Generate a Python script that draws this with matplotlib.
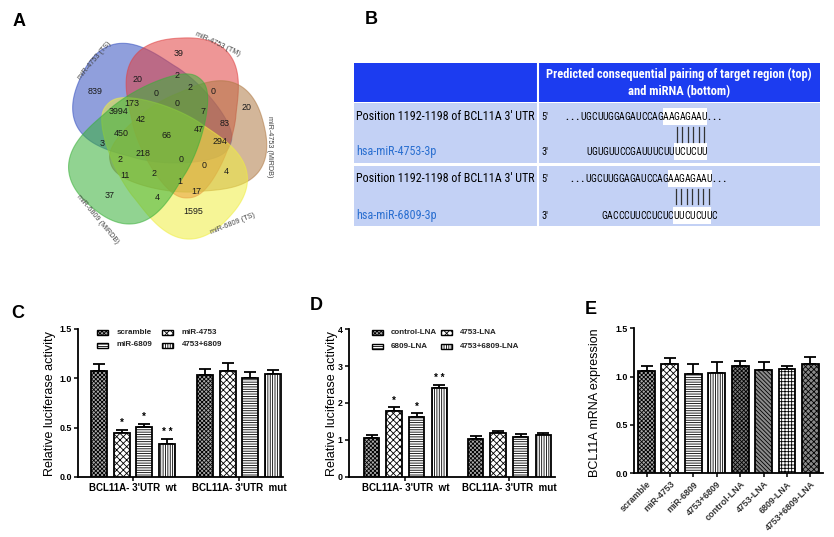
import numpy as np
import matplotlib
matplotlib.use('Agg')
import matplotlib.pyplot as plt
from matplotlib.patches import Polygon, Rectangle
from matplotlib import font_manager as fm

W, H = 834, 537
plt.rcParams['font.family'] = ['Liberation Sans', 'DejaVu Sans']
plt.rcParams['hatch.linewidth'] = 0.6

_names = {f.name for f in fm.fontManager.ttflist}
NARROW = next((n for n in ['Liberation Sans Narrow', 'Roboto Condensed', 'Open Sans Condensed']
               if n in _names), None)
NFAM = [NARROW, 'Liberation Sans', 'DejaVu Sans'] if NARROW else ['Liberation Sans', 'DejaVu Sans']

# ---------------- data ----------------
venn_sets = ['miR-4753 (TS)', 'miR-4753 (TM)', 'miR-4753 (MiRDB)', 'miR-6809 (TS)', 'miR-6809 (MiRDB)']
venn_counts = [39, 20, 2, 2, 0, 0, 839, 20, 173, 0, 3994, 7, 42, 83, 450, 66, 47, 294,
               3, 218, 2, 0, 0, 4, 11, 2, 1, 17, 37, 4, 1595]

tbl_header = ['Predicted consequential pairing of target region (top)', 'and miRNA (bottom)']
tbl_target = ["Position 1192-1198 of BCL11A 3' UTR", "Position 1192-1198 of BCL11A 3' UTR"]
tbl_mirna = ['hsa-miR-4753-3p', 'hsa-miR-6809-3p']
tbl_utr = ['UGCUUGGAGAUCCAGAAGAGAAU', 'UGCUUGGAGAUCCAGAAGAGAAU']
tbl_mir = ['UGUGUUCCGAUUUCUUUCUCUU', 'GACCCUUCCUCUCUUCUCUUC']
tbl_utr_hl = [(15, 23), (15, 23)]
tbl_mir_hl = [(16, 22), (13, 20)]

c_labels = ['scramble', 'miR-4753', 'miR-6809', '4753+6809']
c_groups = ["BCL11A- 3'UTR  wt", "BCL11A- 3'UTR  mut"]
c_wt = [1.07, 0.45, 0.51, 0.33]
c_wt_err = [0.08, 0.03, 0.03, 0.06]
c_mut = [1.03, 1.07, 1.00, 1.04]
c_mut_err = [0.06, 0.09, 0.06, 0.04]
c_stars = ['', '*', '*', '* *']

d_labels = ['control-LNA', '4753-LNA', '6809-LNA', '4753+6809-LNA']
d_groups = ["BCL11A- 3'UTR  wt", "BCL11A- 3'UTR  mut"]
d_wt = [1.05, 1.79, 1.63, 2.40]
d_wt_err = [0.07, 0.09, 0.09, 0.09]
d_mut = [1.03, 1.18, 1.09, 1.12]
d_mut_err = [0.08, 0.07, 0.07, 0.07]
d_stars = ['', '*', '*', '* *']

e_labels = ['scramble', 'miR-4753', 'miR-6809', '4753+6809', 'control-LNA', '4753-LNA',
            '6809-LNA', '4753+6809-LNA']
e_vals = [1.06, 1.13, 1.03, 1.04, 1.11, 1.07, 1.08, 1.13]
e_err = [0.05, 0.06, 0.10, 0.11, 0.05, 0.08, 0.03, 0.07]

# ---------------- layout / styles ----------------
venn_text_pos = [(179, 54), (138, 79), (177, 76), (190, 88), (213, 91), (156, 93), (95, 92),
                 (247, 108), (132, 104), (177, 104), (118, 111), (203, 111), (141, 119),
                 (225, 124), (121, 134), (167, 136), (199, 130), (220, 142), (102, 144),
                 (143, 154), (120, 159), (181, 159), (204, 166), (226, 171), (125, 176),
                 (154, 174), (180, 181), (196, 191), (110, 195), (157, 197), (193, 211)]
venn_shape = [(155, 112, 82, 50, 24, 0.4),
              (184, 118, 80, 52, 87, 0.4),
              (187, 143, 79, 50, 166, 0.4),
              (168, 161, 83, 50, 223, 0.4),
              (146, 143, 84, 50, 310, 0.4)]
venn_colors = ['#3550c0', '#e04040', '#b07a45', '#f0ee40', '#38b038']
venn_label_pos = [(95, 61, 50), (218, 44, -25), (270, 147, -90), (233, 224, 22), (98, 219, -50)]

S_SCR = dict(fc='#a9a9a9', hatch='xxxxxxxx')
S_CHK = dict(fc='white', hatch='xxxxx')
S_HL = dict(fc='white', hatch='-------')
S_VL = dict(fc='white', hatch='|||||||')
S_DK1 = dict(fc='#7c7c7c', hatch='xxxxxxxx')
S_DK2 = dict(fc='#8c8c8c', hatch='\\\\\\\\\\\\\\\\')
S_GRID = dict(fc='white', hatch='+++++')
S_DOT = dict(fc='#8a8a8a', hatch='xxxxxx')
cd_styles = [S_SCR, S_CHK, S_HL, S_VL]
e_styles = [S_SCR, S_CHK, S_HL, S_VL, S_DK1, S_DK2, S_GRID, S_DOT]

fig = plt.figure(figsize=(W / 100, H / 100), dpi=100)
renderer = fig.canvas.get_renderer()


def ax_px(l, t, r, b):
    return fig.add_axes([l / W, 1 - b / H, (r - l) / W, (b - t) / H])


def style_axes(ax):
    for s in ['top', 'right']:
        ax.spines[s].set_visible(False)
    for s in ['left', 'bottom']:
        ax.spines[s].set_linewidth(1.3)
    ax.tick_params(direction='out', length=3, width=1.1, labelsize=6.4, pad=1.5)
    ax.set_facecolor('none')


def draw_bars(ax, xs, vals, errs, styles, stars=None, star_off=0.02, width=0.15):
    for x, v, st in zip(xs, vals, styles):
        ax.bar(x, v, width=width, facecolor=st['fc'], hatch=st['hatch'], edgecolor='black',
               linewidth=1.3, zorder=3)
    ax.errorbar(xs, vals, yerr=[np.zeros(len(vals)), errs], fmt='none', ecolor='black',
                elinewidth=1.3, capsize=4, capthick=1.3, zorder=2)
    if stars:
        for x, v, e, s in zip(xs, vals, errs, stars):
            if s:
                ax.text(x, v + e + star_off, s, ha='center', va='bottom', fontsize=7,
                        fontweight='bold')


# ---------------- panel C ----------------
axC = ax_px(78, 329, 283, 477)
style_axes(axC)
offs = (np.arange(4) - 1.5) * 0.214
draw_bars(axC, 0 + offs, c_wt, c_wt_err, cd_styles, c_stars, 0.015, 0.151)
draw_bars(axC, 1 + offs, c_mut, c_mut_err, cd_styles, None, 0.015, 0.151)
axC.set_xlim(-0.519, 1.415)
axC.set_ylim(0, 1.5)
axC.set_yticks([0, 0.5, 1.0, 1.5])
axC.set_yticklabels(['0.0', '0.5', '1.0', '1.5'], fontweight='bold')
axC.set_xticks([0, 1])
axC.set_xticklabels(c_groups, fontweight='bold', fontsize=7)

# ---------------- panel D ----------------
axD = ax_px(349, 329.3, 555, 476.7)
style_axes(axD)
offs = (np.arange(4) - 1.5) * 0.217
draw_bars(axD, 0 + offs, d_wt, d_wt_err, cd_styles, d_stars, 0.04, 0.149)
draw_bars(axD, 1 + offs, d_mut, d_mut_err, cd_styles, None, 0.04, 0.149)
axD.set_xlim(-0.543, 1.438)
axD.set_ylim(0, 4)
axD.set_yticks([0, 1, 2, 3, 4])
axD.set_yticklabels(['0', '1', '2', '3', '4'], fontweight='bold')
axD.set_xticks([0, 1])
axD.set_xticklabels(d_groups, fontweight='bold', fontsize=7)

# ---------------- panel E ----------------
axE = ax_px(634, 328.3, 823, 473.3)
style_axes(axE)
draw_bars(axE, np.arange(len(e_vals)), e_vals, e_err, e_styles, None, 0.02, 0.72)
axE.set_xlim(-0.534, 7.54)
axE.set_ylim(0, 1.5)
axE.set_yticks([0, 0.5, 1.0, 1.5])
axE.set_yticklabels(['0.0', '0.5', '1.0', '1.5'], fontweight='bold')
axE.set_xticks(np.arange(len(e_labels)))
axE.set_xticklabels(e_labels, fontweight='bold', fontsize=6.4, rotation=45, ha='right',
                    rotation_mode='anchor', color='#333333')

# ---------------- overlay (pixel coords) ----------------
axo = fig.add_axes([0, 0, 1, 1])
axo.set_xlim(0, W)
axo.set_ylim(H, 0)
axo.axis('off')
axo.set_zorder(10)
axo.patch.set_alpha(0)


def legend_px(labels, styles, col_x, text_dx, row_y):
    for i, (lab, st) in enumerate(zip(labels, styles)):
        r, c = divmod(i, 2)
        x0 = col_x[c]
        y0 = row_y[r]
        axo.add_patch(Rectangle((x0, y0 - 2.5), 11, 5, facecolor=st['fc'], hatch=st['hatch'],
                                edgecolor='black', linewidth=1.0))
        axo.text(x0 + text_dx, y0, lab, ha='left', va='center', fontsize=5.8, fontweight='bold',
                 color='#222222')


legend_px(c_labels, cd_styles, [97, 162], 20, [332, 345])
legend_px(d_labels, cd_styles, [372, 441], 19, [332, 346])

# y labels
axo.text(50, 404, 'Relative luciferase activity', rotation=90, ha='center', va='center', fontsize=9)
axo.text(332, 404, 'Relative luciferase activity', rotation=90, ha='center', va='center', fontsize=9)
axo.text(595, 403, 'BCL11A mRNA expression', rotation=90, ha='center', va='center', fontsize=9)

# panel letters
for L, (x, y) in zip('ABCDE', [(19, 21), (371, 19), (18, 313), (316, 306), (591, 310)]):
    axo.text(x, y, L, ha='center', va='center', fontsize=13, fontweight='bold')


# Venn diagram
def egg(cx, cy, a, b, phi_deg, k, n=240):
    t = np.linspace(0, 2 * np.pi, n)
    phi = np.radians(phi_deg)
    c = np.cos(t)
    s = np.sin(t)
    c2 = np.sign(c) * np.abs(c) ** 0.85
    s2 = np.sign(s) * np.abs(s) ** 0.85
    along = a * c2
    across = b * s2 * (1 - k * c)
    x = cx + along * np.cos(phi) - across * np.sin(phi)
    y = cy + along * np.sin(phi) + across * np.cos(phi)
    return np.column_stack([x, y])


for shp, col in zip(venn_shape, venn_colors):
    axo.add_patch(Polygon(egg(*shp), closed=True, facecolor=col, alpha=0.55, edgecolor=col,
                          linewidth=0.8))
for (x, y), n in zip(venn_text_pos, venn_counts):
    axo.text(x, y, str(n), ha='center', va='center', fontsize=6.4, color='#1a1a1a')
for (x, y, rot), lab in zip(venn_label_pos, venn_sets):
    axo.text(x, y, lab, ha='center', va='center', fontsize=5.2, rotation=rot, color='#444444')


# Table (panel B)
def fit_width(t, target):
    bb = t.get_window_extent(renderer)
    if bb.width > 0:
        t.set_fontsize(t.get_fontsize() * target / bb.width)


HDR = '#1c3cf0'
ROW = '#c3d1f5'
axo.add_patch(Rectangle((354, 63), 466, 39, facecolor=HDR, edgecolor='none'))
row_tops = [103, 166]
for rt in row_tops:
    axo.add_patch(Rectangle((354, rt), 466, 60, facecolor=ROW, edgecolor='none'))
axo.plot([538, 538], [63, 226], color='white', lw=1.5)

h1 = axo.text(679, 74, tbl_header[0], ha='center', va='center', color='white', fontsize=8.5,
              family=NFAM, fontweight='bold')
fit_width(h1, 265)
h2 = axo.text(679, 92, tbl_header[1], ha='center', va='center', color='white', fontsize=8.5,
              family=NFAM, fontweight='bold')
fit_width(h2, 102)

row_y_top = [117, 179]
row_y_bot = [152, 216]
utr_right = [707, 712]
mir_right = [707, 717]
pitch = 5.5
seq_fs = 7 if NARROW else 6
for i in range(2):
    yt, yb = row_y_top[i], row_y_bot[i]
    t1 = axo.text(356, yt, tbl_target[i], ha='left', va='center', fontsize=9, family=NFAM)
    fit_width(t1, 179)
    t2 = axo.text(356, yb, tbl_mirna[i], ha='left', va='center', fontsize=9, family=NFAM,
                  color='#2a6fd0')
    fit_width(t2, 81)
    axo.text(541, yt, "5'", ha='left', va='center', fontsize=7.5, family=NFAM)
    axo.text(541, yb, "3'", ha='left', va='center', fontsize=7.5, family=NFAM)
    # top (UTR) sequence
    seq = tbl_utr[i]
    xs_top = utr_right[i] - pitch / 2 - pitch * (len(seq) - 1 - np.arange(len(seq)))
    a, b = tbl_utr_hl[i]
    axo.add_patch(Rectangle((xs_top[a] - pitch / 2, yt - 9), pitch * (b - a), 17,
                            facecolor='white', edgecolor='none'))
    for x, ch in zip(xs_top, seq):
        axo.text(x, yt, ch, ha='center', va='center', fontsize=seq_fs, family=NFAM)
    axo.text(xs_top[0] - pitch / 2 - 1, yt, '. . .', ha='right', va='center', fontsize=7,
             family=NFAM, fontweight='bold')
    axo.text(xs_top[-1] + pitch / 2 + 1, yt, '. . .', ha='left', va='center', fontsize=7,
             family=NFAM, fontweight='bold')
    # bottom (miRNA) sequence
    seq = tbl_mir[i]
    xs_bot = mir_right[i] - pitch / 2 - pitch * (len(seq) - 1 - np.arange(len(seq)))
    a, b = tbl_mir_hl[i]
    axo.add_patch(Rectangle((xs_bot[a] - pitch / 2, yb - 9), pitch * (b - a), 17,
                            facecolor='white', edgecolor='none'))
    for x, ch in zip(xs_bot, seq):
        axo.text(x, yb, ch, ha='center', va='center', fontsize=seq_fs, family=NFAM)
    for x in xs_bot[a:b]:
        axo.plot([x, x], [yt + 10, yt + 25], color='#333333', lw=0.9)

fig.savefig('out.png', dpi=100)
